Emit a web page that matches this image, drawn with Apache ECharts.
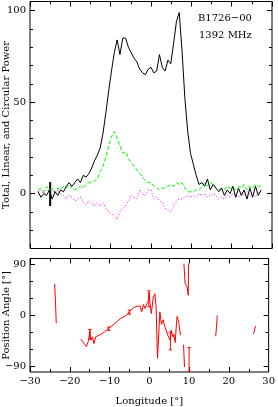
<!DOCTYPE html>
<html><head><meta charset="utf-8">
<script src="https://cdn.jsdelivr.net/npm/echarts@6/dist/echarts.min.js"></script>
<style>html,body{margin:0;padding:0;background:#fff}#c{width:278px;height:407px}</style>
</head><body><div id="c"></div>
<script>
// ---- data ----
const lon = [-28.0,-27.3,-26.6,-25.9,-25.2,-24.5,-23.8,-23.1,-22.4,-21.7,-21.0,-20.3,-19.6,-18.9,-18.2,-17.5,-16.8,-16.1,-15.4,-14.7,-14.0,-13.3,-12.6,-11.9,-11.2,-10.5,-9.8,-9.1,-8.4,-7.7,-7.0,-6.3,-5.6,-4.9,-4.2,-3.5,-2.8,-2.1,-1.4,-0.7,0.0,0.7,1.4,2.1,2.8,3.5,4.2,4.9,5.6,6.3,7.0,7.7,8.4,9.1,9.8,10.5,11.2,11.9,12.6,13.3,14.0,14.7,15.4,16.1,16.8,17.5,18.2,18.9,19.6,20.3,21.0,21.7,22.4,23.1,23.8,24.5,25.2,25.9,26.6,27.3];
const totalPower = [1,-2,0,-1,2,-3,1,-1,2,1,4,6,4,6,8,6,10,9,11,14,18,21,25,33,44,56,67,77,84,76,85,85,80,77,74,72,68,66,65,68,69,66,67,76,69,67,73,71,82,94,99,78,52,34,22,16,10,5,6,4,8,2,5,3,1,3,-1,2,0,4,-2,3,-1,2,-3,3,-2,4,-1,2];
const linearPower = [2,3,1,4,2,3,1,3,2,4,3,5,3,2,3,4,3,5,6,6,7,8,12,15,20,26,31,34,30,26,22,23,19,17,15,13,11,9,7,6,6,4,3,2,3,3,4,5,4,6,5,6,3,1,1,1,2,2,4,6,4,6,5,3,2,3,2,4,3,3,2,4,3,5,2,4,3,5,4,4];
const circularPower = [1,2,0,2,1,3,0,2,0,-1,-3,-1,-2,-4,-3,-2,-5,-6,-4,-5,-7,-5,-7,-5,-8,-10,-11,-12,-14,-10,-8,-7,-4,-1,-2,-3,2,0,-1,2,2,-3,-2,-4,-5,-8,-9,-10,-7,-4,-3,-3,-2,-1,-2,-1,-2,0,-1,0,-2,-1,0,-1,-3,-2,-3,-1,-2,0,-1,-2,0,-1,1,-1,0,-2,1,1];
const totalErrBar = [[-25.0, -6.8, 6.3]];
// position angle (null = gap between segments)
const paLon = [-23.8,-23.6,-23.4,-23.3,
 -17.2,-16.8,-16.4,-15.8,-15.3,-14.95,-14.7,-14.3,-13.9,-13.5,-13.0,-12.6,-12.2,-11.8,-11.2,-10.6,-10.2,-9.7,-9.3,-8.9,-8.5,-8.1,-7.7,-7.3,-6.9,-6.45,-6.0,-5.6,-5.2,-4.8,-4.4,-4.0,-3.5,-3.1,-2.7,-2.3,-1.9,-1.5,-1.07,-0.66,-0.3,-0.08,0.2,0.5,1.0,1.4,1.7,2.06,2.65,3.05,3.5,3.9,4.3,4.7,5.1,5.3,5.5,5.95,6.2,6.5,6.8,7.0,7.4,7.85,7.9,
 8.6,8.85,8.9,
 8.7,9.0,9.5,9.8,9.85,9.9,
 16.7,17.1,17.2,
 26.2,26.7];
const paDeg = [55,25,-14,null,
 -42,-46,-50,-55,-45,-27,-44,-38,-50,-38,-37,-35,-34,-32,-29,-25,-24,-20,-19,-16,-14,-11,-9,-6,-5,-3,-1,1,3,8,10,13,15,16,17,16,6,19,12,20,24,40,18,3,32,38,15,-76,6,-16,-8,-20,-22,-36,-38,-45,-26,-38,-34,-48,-17,-2,-13,-35,null,
 -52,-91,null,
 91,56,50,35,91,null,
 -37,0,null,
 -33,-19];
const paErrBars = [[-14.95,-42,-25],[-10.2,-27,-21],[-5.0,2,9],[-0.1,15,43],[5.3,-61,-30],[10.0,-99,-57]];
const xTickLabels = [-30,-20,-10,0,10,20,30];
const powerMajorTicks = [0,50,100];
const powerMinorTicks = [-30,-20,-10,10,20,30,40,60,70,80,90];
const paMajorTicks = [-90,0,90];
const paMinorTicks = [-60,-30,30,60];

// ---- chart ----
const FONT = 'DejaVu Serif';
const minus = v => (v < 0 ? '\u2212' + Math.abs(v) : String(v));
const chart = echarts.init(document.getElementById('c'), null, {renderer: 'canvas'});

function xAxes(grid, withLabels) {
  const base = {
    type: 'value', gridIndex: grid, min: -30, max: 30, interval: 10,
    axisLine: {show: false, onZero: false}, splitLine: {show: false},
    axisTick: {show: true, inside: true, length: 5, lineStyle: {color: '#000', width: 1}},
    minorTick: {show: true, splitNumber: 2, length: 3, lineStyle: {color: '#000', width: 1}},
    minorSplitLine: {show: false}
  };
  return [
    Object.assign({}, base, {position: 'bottom',
      axisLabel: withLabels ? {show: true, color: '#000', fontFamily: FONT, fontSize: 10, margin: 4, formatter: minus, customValues: xTickLabels} : {show: false},
      name: withLabels ? 'Longitude [\u00b0]' : '', nameLocation: 'middle', nameGap: 24,
      nameTextStyle: {color: '#000', fontFamily: FONT, fontSize: 10}}),
    Object.assign({}, base, {position: 'top', axisLabel: {show: false}})
  ];
}
function yAxes(grid, min, max, major, minor) {
  const base = {type: 'value', gridIndex: grid, min: min, max: max,
    axisLine: {show: false, onZero: false}, splitLine: {show: false}};
  const tk = (vals, len) => ({show: true, inside: true, length: len, customValues: vals, lineStyle: {color: '#000', width: 1}});
  return [
    Object.assign({}, base, {position: 'left', axisTick: tk(major, 5),
      axisLabel: {show: true, customValues: major, color: '#000', fontFamily: FONT, fontSize: 10, margin: 4, formatter: minus}}),
    Object.assign({}, base, {position: 'left', axisTick: tk(minor, 3), axisLabel: {show: false}}),
    Object.assign({}, base, {position: 'right', axisTick: tk(major, 5), axisLabel: {show: false}}),
    Object.assign({}, base, {position: 'right', axisTick: tk(minor, 3), axisLabel: {show: false}})
  ];
}

const errRender = (color, width, cap) => function (params, api) {
  const x = api.value(0), p1 = api.coord([x, api.value(1)]), p2 = api.coord([x, api.value(2)]);
  const st = {stroke: color, lineWidth: width};
  const kids = [{type: 'line', shape: {x1: p1[0], y1: p1[1], x2: p2[0], y2: p2[1]}, style: st}];
  if (cap) {
    kids.push({type: 'line', shape: {x1: p1[0] - cap, y1: p1[1], x2: p1[0] + cap, y2: p1[1]}, style: st});
    kids.push({type: 'line', shape: {x1: p2[0] - cap, y1: p2[1], x2: p2[0] + cap, y2: p2[1]}, style: st});
  }
  return {type: 'group', children: kids};
};

const zip = (xs, ys) => xs.map((x, i) => [x, ys[i]]);
const vText = (text, cx, cy) => ({type: 'text', x: cx, y: cy, rotation: Math.PI / 2,
  style: {text: text, fill: '#000', font: '10px "DejaVu Serif"', align: 'center', verticalAlign: 'middle',
          textAlign: 'center', textVerticalAlign: 'middle'}});

chart.setOption({
  animation: false,
  backgroundColor: '#fff',
  grid: [
    {left: 30, top: 1.5, width: 242, height: 247, show: true, borderColor: '#000', borderWidth: 1, backgroundColor: 'transparent'},
    {left: 30, top: 258.5, width: 242, height: 114, show: true, borderColor: '#000', borderWidth: 1, backgroundColor: 'transparent'}
  ],
  xAxis: [...xAxes(0, false), ...xAxes(1, true)],
  yAxis: [
    ...yAxes(0, -30, 105, powerMajorTicks, powerMinorTicks),
    ...yAxes(1, -100, 100, paMajorTicks, paMinorTicks)
  ],
  graphic: [
    {type: 'text', left: 198, top: 13, style: {text: 'B1726\u221200', fill: '#000', font: '10px "DejaVu Serif"'}},
    {type: 'text', left: 199, top: 30, style: {text: '1392 MHz', fill: '#000', font: '10px "DejaVu Serif"'}},
    vText('Total, Linear, and Circular Power', 6, 125),
    vText('Position Angle [\u00b0]', 6, 315.5)
  ],
  series: [
    {type: 'line', xAxisIndex: 0, yAxisIndex: 0, data: zip(lon, circularPower), showSymbol: false, symbol: 'none',
     lineStyle: {color: '#ff00ff', width: 1, type: [1, 2]}},
    {type: 'line', xAxisIndex: 0, yAxisIndex: 0, data: zip(lon, linearPower), showSymbol: false, symbol: 'none',
     lineStyle: {color: '#00ff00', width: 1, type: [4, 2]}},
    {type: 'line', xAxisIndex: 0, yAxisIndex: 0, data: zip(lon, totalPower), showSymbol: false, symbol: 'none',
     lineStyle: {color: '#000', width: 1}},
    {type: 'custom', xAxisIndex: 0, yAxisIndex: 0, data: totalErrBar, encode: {x: 0, y: [1, 2]},
     renderItem: errRender('#000', 2, 0)},
    {type: 'line', xAxisIndex: 2, yAxisIndex: 4, data: zip(paLon, paDeg), showSymbol: false, symbol: 'none',
     connectNulls: false, lineStyle: {color: '#ff0000', width: 1}},
    {type: 'custom', xAxisIndex: 2, yAxisIndex: 4, data: paErrBars, encode: {x: 0, y: [1, 2]},
     renderItem: errRender('#ff0000', 1, 1.7)}
  ]
});
</script></body></html>
